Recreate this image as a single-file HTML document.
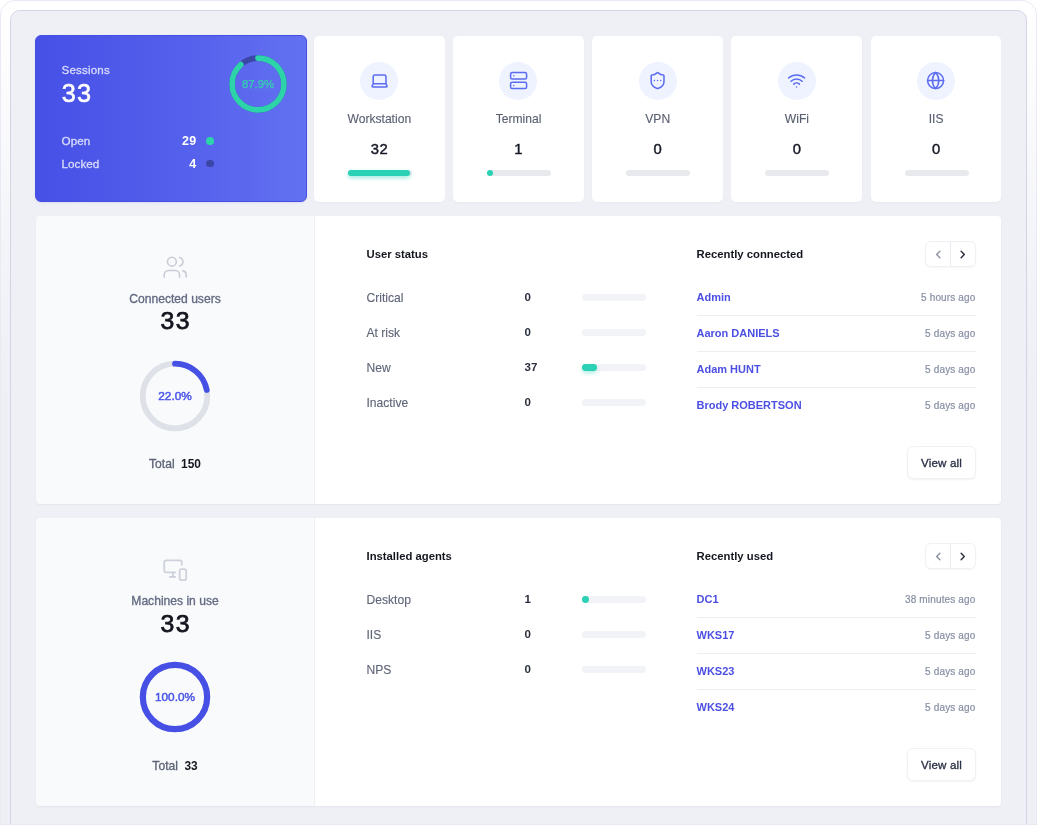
<!DOCTYPE html>
<html lang="en">
<head>
<meta charset="utf-8">
<title>Dashboard</title>
<style>
*{box-sizing:border-box;margin:0;padding:0}
html,body{width:1037px;height:825px;overflow:hidden;background:#fff}
body{font-family:"Liberation Sans",Arial,sans-serif;color:#14171f;position:relative}
.outer{position:absolute;left:0;top:0;width:1037px;height:860px;border:1px solid #e9ebf4;border-radius:15px;background:linear-gradient(to bottom,#ffffff 0px,#fdfdfe 60px,#f1f2f7 300px,#eff0f5 400px)}
.inner{position:absolute;left:10px;top:10px;width:1017px;height:860px;border:1px solid #d3d5e6;border-radius:10px;background:#eff0f5}
.abs{position:absolute}
.md{font-weight:400;-webkit-text-stroke:.3px currentColor}
.sb{font-weight:400;-webkit-text-stroke:.38px currentColor}
.t{position:absolute;white-space:nowrap;line-height:20px;height:20px}
.c{transform:translateX(-50%)}
.r{transform:translateX(-100%)}
/* sessions card */
.sess{position:absolute;left:35px;top:35px;width:272px;height:167.400px;border-radius:6px;border:1px solid #464fe4;background:linear-gradient(90deg,#4650e6 0%,#5560ec 55%,#6271f1 100%);box-shadow:0 1px 2px rgba(70,80,229,.12)}
.card{position:absolute;top:36px;width:130.800px;height:165.700px;background:#fff;border-radius:5px;box-shadow:0 1px 2px rgba(30,40,90,.03)}
.ico{position:absolute;left:46.400px;top:25.500px;width:38px;height:38px;border-radius:50%;background:#eef3ff}
.ico svg{position:absolute;left:9.4px;top:9.4px;width:19.2px;height:19.2px;fill:none;stroke:#5b6cf0;stroke-width:1.9;stroke-linecap:round;stroke-linejoin:round}
.card .lbl{left:65.500px;top:73px;font-size:12.100px;color:#5a6072;-webkit-text-stroke:.12px #5a6072}
.card .val{left:65.700px;top:102.500px;letter-spacing:.5px;font-size:14.800px;font-weight:400;-webkit-text-stroke:.45px #171a26;color:#171a26}
.card .bar{position:absolute;left:34px;top:133.700px;width:64px;height:6px;border-radius:3px;background:#e8e9ec}
.card .bar i{position:absolute;left:0;top:0;height:6px;border-radius:3px;background:#2bd1b5;box-shadow:0 2px 4px rgba(43,209,181,.45)}
/* panels */
.panel{position:absolute;left:35px;width:966px;height:288.300px;border-radius:4px}
.panel:before{content:"";position:absolute;left:.8px;top:0;right:0;bottom:0;border-radius:4px;background:linear-gradient(90deg,#f9fafb 0,#f9fafb 278.100px,#eff0f4 278.100px,#eff0f4 279.100px,#fff 279.100px);box-shadow:0 1px 2px rgba(30,40,90,.05)}
.panel .left{position:absolute;left:0;top:0;width:280px;height:288px}
.h{font-size:11.300px;font-weight:700;color:#14171f;margin-top:-.8px}
.rl{font-size:12.100px;color:#5f6578;-webkit-text-stroke:.12px #5f6578}
.rv{font-size:11.500px;font-weight:700;color:#2b2f3d;margin-top:-.5px}
.trk{position:absolute;left:546.800px;width:64px;height:6.800px;border-radius:3.400px;background:#f2f3f7;margin-top:-.4px}
.trk i{position:absolute;left:0;top:0;height:6.800px;border-radius:3.400px;background:#2bd1b5;box-shadow:0 2px 4px rgba(43,209,181,.4)}
.nm{font-size:11px;font-weight:700;color:#4c4fe3;margin-top:-.8px}
.tm{font-size:10px;letter-spacing:.15px;font-weight:400;-webkit-text-stroke:.22px #8a91a6;color:#8a91a6;margin-top:.1px}
.sep{position:absolute;left:661.500px;width:279px;height:1px;background:#edeff4;margin-top:-.3px}
.nav{position:absolute;left:889.800px;width:51px;height:26px;border:1px solid #f0f1f5;border-radius:6px;background:#fff;box-shadow:0 1px 2px rgba(20,25,50,.04);margin-top:-.8px}
.nav:before{content:"";position:absolute;left:24.500px;top:0;width:1px;height:24px;background:#e9ebf1}
.nav svg{position:absolute;top:7.800px;width:9px;height:9px;fill:none;stroke-width:1.6;stroke-linecap:round;stroke-linejoin:round}
.btn{position:absolute;left:871.900px;width:69.200px;height:32.800px;margin-top:-.8px;border:1px solid #f1f2f5;border-radius:6px;background:#fff;box-shadow:0 1px 2px rgba(20,25,50,.05);font-size:11.600px;letter-spacing:.15px;font-weight:400;-webkit-text-stroke:.32px #2a2f45;color:#2a2f45;text-align:center;line-height:32.400px}
.pl{font-size:12.100px;font-weight:400;-webkit-text-stroke:.32px #636a82;color:#636a82;margin-top:0px}
.pv{font-size:24.800px;font-weight:400;-webkit-text-stroke:.75px #11141d;color:#11141d;line-height:30px;height:30px;letter-spacing:1.300px;margin-left:.65px;margin-top:.9px}
.pt{font-size:11px;font-weight:700;color:#4a52e3}
.tot{font-size:12.100px;font-weight:400;-webkit-text-stroke:.3px #5d6376;color:#5d6376}
.tot b{color:#14171f;margin-left:6.500px;-webkit-text-stroke:0;font-size:11.900px}
</style>
</head>
<body>
<div class="outer"></div>
<div class="inner"></div>

<!-- Sessions card -->
<div class="sess">
  <div class="t md" style="left:25.600px;top:23.500px;font-size:11.600px;letter-spacing:.15px;color:#d9ddfc">Sessions</div>
  <div class="t" style="left:25.800px;top:41.800px;font-size:25.300px;letter-spacing:1.100px;font-weight:400;-webkit-text-stroke:.55px #fff;color:#fff;line-height:30px;height:30px">33</div>
  <div class="t md" style="left:25.600px;top:95px;font-size:11.700px;color:#d9ddfc">Open</div>
  <div class="t md" style="left:25.600px;top:117.700px;font-size:11.700px;color:#d9ddfc">Locked</div>
  <div class="t r" style="left:160.600px;top:95.300px;font-size:12.500px;letter-spacing:.4px;font-weight:700;color:#fff">29</div>
  <div class="t r" style="left:160.600px;top:117.800px;font-size:12.500px;letter-spacing:.4px;font-weight:700;color:#fff">4</div>
  <div class="abs" style="left:170.300px;top:101.300px;width:7.600px;height:7.600px;border-radius:50%;background:#2dd4aa"></div>
  <div class="abs" style="left:170.300px;top:123.700px;width:7.600px;height:7.600px;border-radius:50%;background:#3b46a6"></div>
  <svg class="abs" style="left:192.200px;top:17.600px" width="60" height="60" viewBox="0 0 60 60">
    <circle cx="30" cy="30" r="25.900" fill="none" stroke="#3b46a6" stroke-width="5.600"/>
    <circle cx="30" cy="30" r="25.900" fill="none" stroke="#2dd4aa" stroke-width="5.600" stroke-linecap="round" stroke-dasharray="143.040 200" transform="rotate(-90 30 30)"/>
    <text x="30" y="34.100" text-anchor="middle" font-family="Liberation Sans, Arial, sans-serif" font-size="11.300" fill="#33d3ae" stroke="#33d3ae" stroke-width=".25">87.9%</text>
  </svg>
</div>

<!-- Small cards -->
<div class="card" style="left:313.8px">
  <div class="ico"><svg viewBox="0 0 24 24"><path d="M20 16V7a2 2 0 0 0-2-2H6a2 2 0 0 0-2 2v9m16 0H4m16 0 1.280 2.550a1 1 0 0 1-.900 1.450H3.620a1 1 0 0 1-.900-1.450L4 16"/></svg></div>
  <div class="t c lbl">Workstation</div><div class="t c val">32</div>
  <div class="bar"><i style="width:62.500px"></i></div>
</div>
<div class="card" style="left:453px">
  <div class="ico"><svg viewBox="0 0 24 24"><rect width="20" height="8" x="2" y="2" rx="2" ry="2"/><rect width="20" height="8" x="2" y="14" rx="2" ry="2"/><path d="M6 6h.010M6 18h.010"/></svg></div>
  <div class="t c lbl">Terminal</div><div class="t c val">1</div>
  <div class="bar"><i style="width:6px;box-shadow:none"></i></div>
</div>
<div class="card" style="left:592.2px">
  <div class="ico"><svg viewBox="0 0 24 24"><path d="M20 13c0 5-3.500 7.500-7.660 8.950a1 1 0 0 1-.670-.010C7.500 20.500 4 18 4 13V6a1 1 0 0 1 1-1c2 0 4.500-1.200 6.240-2.720a1.170 1.170 0 0 1 1.520 0C14.510 3.810 17 5 19 5a1 1 0 0 1 1 1z"/><path d="M8 12h.010M12 12h.010M16 12h.010"/></svg></div>
  <div class="t c lbl">VPN</div><div class="t c val">0</div>
  <div class="bar"></div>
</div>
<div class="card" style="left:731.4px">
  <div class="ico"><svg viewBox="0 0 24 24"><path d="M12 20h.010"/><path d="M2 8.820a15 15 0 0 1 20 0"/><path d="M5 12.859a10 10 0 0 1 14 0"/><path d="M8.500 16.429a5 5 0 0 1 7 0"/></svg></div>
  <div class="t c lbl">WiFi</div><div class="t c val">0</div>
  <div class="bar"></div>
</div>
<div class="card" style="left:870.6px">
  <div class="ico"><svg viewBox="0 0 24 24"><circle cx="12" cy="12" r="10"/><path d="M12 2a14.500 14.500 0 0 0 0 20 14.500 14.500 0 0 0 0-20"/><path d="M2 12h20"/></svg></div>
  <div class="t c lbl">IIS</div><div class="t c val">0</div>
  <div class="bar"></div>
</div>

<!-- Panel: users -->
<div class="panel" style="top:215.5px">
  <div class="left">
    <svg class="abs" style="left:127.150px;top:38.450px" width="26.400" height="26.400" viewBox="0 0 24 24" fill="none" stroke="#c9ccd6" stroke-width="1.450" stroke-linecap="round" stroke-linejoin="round"><path d="M16 21v-2a4 4 0 0 0-4-4H6a4 4 0 0 0-4 4v2"/><circle cx="9" cy="7" r="4"/><path d="M22 21v-2a4 4 0 0 0-3-3.870"/><path d="M16 3.130a4 4 0 0 1 0 7.750"/></svg>
    <div class="t c pl" style="left:140px;top:73px">Connected users</div>
    <div class="t c pv" style="left:140px;top:90px">33</div>
    <svg class="abs" style="left:104.300px;top:144.100px" width="72" height="72" viewBox="0 0 72 72">
      <circle cx="36" cy="36" r="32.300" fill="none" stroke="#dfe1e8" stroke-width="5.800"/>
      <circle cx="36" cy="36" r="32.300" fill="none" stroke="#4650e5" stroke-width="5.800" stroke-linecap="round" stroke-dasharray="44.650 300" transform="rotate(-90 36 36)"/>
      <text x="36" y="40.400" text-anchor="middle" font-family="Liberation Sans, Arial, sans-serif" font-size="11.800" fill="#4d58e8" stroke="#4d58e8" stroke-width=".5">22.0%</text>
    </svg>
    <div class="t c tot" style="left:140px;top:238.500px">Total<b>150</b></div>
  </div>
  <div class="t h" style="left:331.500px;top:29px">User status</div>
  <div class="t rl" style="left:331.500px;top:72px">Critical</div><div class="t rv" style="left:489.500px;top:72px">0</div><div class="trk" style="top:79px"></div>
  <div class="t rl" style="left:331.500px;top:107px">At risk</div><div class="t rv" style="left:489.500px;top:107px">0</div><div class="trk" style="top:114px"></div>
  <div class="t rl" style="left:331.500px;top:142px">New</div><div class="t rv" style="left:489.500px;top:142px">37</div><div class="trk" style="top:149px"><i style="width:15.300px"></i></div>
  <div class="t rl" style="left:331.500px;top:177px">Inactive</div><div class="t rv" style="left:489.500px;top:177px">0</div><div class="trk" style="top:184px"></div>

  <div class="t h" style="left:661.500px;top:29px">Recently connected</div>
  <div class="nav" style="top:26.500px"><svg style="left:8px" viewBox="0 0 10 10" stroke="#8d92a1"><path d="M6.500 1.500L3 5l3.500 3.500"/></svg><svg style="left:32px" viewBox="0 0 10 10" stroke="#2b2f3d"><path d="M3.500 1.500L7 5 3.500 8.500"/></svg></div>
  <div class="t nm" style="left:661.500px;top:72px">Admin</div><div class="t r tm" style="left:940.500px;top:72px">5 hours ago</div>
  <div class="sep" style="top:100px"></div>
  <div class="t nm" style="left:661.500px;top:108px">Aaron DANIELS</div><div class="t r tm" style="left:940.500px;top:108px">5 days ago</div>
  <div class="sep" style="top:136px"></div>
  <div class="t nm" style="left:661.500px;top:144.300px">Adam HUNT</div><div class="t r tm" style="left:940.500px;top:144.300px">5 days ago</div>
  <div class="sep" style="top:171.800px"></div>
  <div class="t nm" style="left:661.500px;top:180.300px">Brody ROBERTSON</div><div class="t r tm" style="left:940.500px;top:180.300px">5 days ago</div>
  <div class="btn" style="top:231.500px">View all</div>
</div>

<!-- Panel: machines -->
<div class="panel" style="top:517.700px">
  <div class="left">
    <svg class="abs" style="left:127.150px;top:38.450px" width="26.400" height="26.400" viewBox="0 0 24 24" fill="none" stroke="#cdd1db" stroke-width="1.600" stroke-linecap="round" stroke-linejoin="round"><path d="M18 8V6a2 2 0 0 0-2-2H4a2 2 0 0 0-2 2v7a2 2 0 0 0 2 2h8"/><path d="M10 19v-3.960 3.150"/><path d="M7 19h5"/><rect width="6" height="10" x="16" y="12" rx="2"/></svg>
    <div class="t c pl" style="left:140px;top:73px">Machines in use</div>
    <div class="t c pv" style="left:140px;top:90px">33</div>
    <svg class="abs" style="left:104.300px;top:143.800px" width="72" height="72" viewBox="0 0 72 72">
      <circle cx="36" cy="36" r="32.150" fill="none" stroke="#4650e5" stroke-width="6.200"/>
      <text x="36" y="40.400" text-anchor="middle" font-family="Liberation Sans, Arial, sans-serif" font-size="11.800" fill="#4d58e8" stroke="#4d58e8" stroke-width=".5">100.0%</text>
    </svg>
    <div class="t c tot" style="left:140px;top:238.500px">Total<b>33</b></div>
  </div>
  <div class="t h" style="left:331.500px;top:29px">Installed agents</div>
  <div class="t rl" style="left:331.500px;top:72px">Desktop</div><div class="t rv" style="left:489.500px;top:72px">1</div><div class="trk" style="top:79px"><i style="width:6.800px;box-shadow:none"></i></div>
  <div class="t rl" style="left:331.500px;top:107px">IIS</div><div class="t rv" style="left:489.500px;top:107px">0</div><div class="trk" style="top:114px"></div>
  <div class="t rl" style="left:331.500px;top:142px">NPS</div><div class="t rv" style="left:489.500px;top:142px">0</div><div class="trk" style="top:149px"></div>

  <div class="t h" style="left:661.500px;top:29px">Recently used</div>
  <div class="nav" style="top:26.5px"><svg style="left:8px" viewBox="0 0 10 10" stroke="#8d92a1"><path d="M6.500 1.500L3 5l3.500 3.500"/></svg><svg style="left:32px" viewBox="0 0 10 10" stroke="#2b2f3d"><path d="M3.500 1.500L7 5 3.500 8.500"/></svg></div>
  <div class="t nm" style="left:661.500px;top:72px">DC1</div><div class="t r tm" style="left:940.500px;top:72px">38 minutes ago</div>
  <div class="sep" style="top:100px"></div>
  <div class="t nm" style="left:661.500px;top:108px">WKS17</div><div class="t r tm" style="left:940.500px;top:108px">5 days ago</div>
  <div class="sep" style="top:136px"></div>
  <div class="t nm" style="left:661.500px;top:144.300px">WKS23</div><div class="t r tm" style="left:940.500px;top:144.300px">5 days ago</div>
  <div class="sep" style="top:171.800px"></div>
  <div class="t nm" style="left:661.500px;top:180.300px">WKS24</div><div class="t r tm" style="left:940.500px;top:180.300px">5 days ago</div>
  <div class="btn" style="top:231.5px">View all</div>
</div>
<div class="abs" style="left:0;top:824px;width:1037px;height:1px;background:#e7e9f1"></div>
</body>
</html>
